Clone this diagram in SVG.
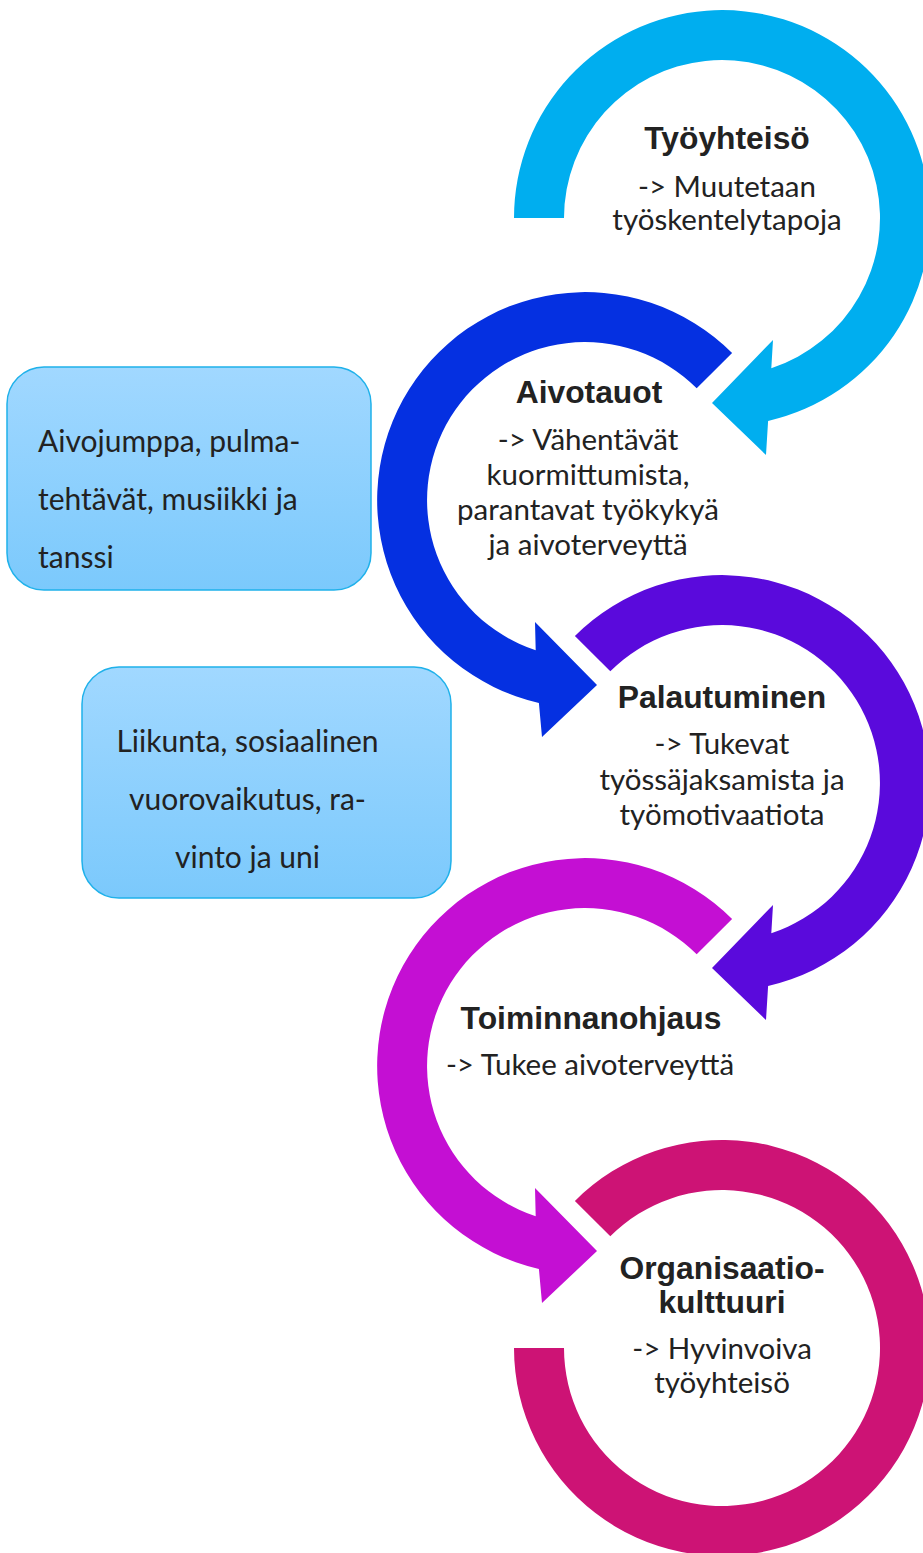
<svg xmlns="http://www.w3.org/2000/svg" width="923" height="1553" viewBox="0 0 923 1553">
  <defs>
    <linearGradient id="boxFill" x1="0" y1="0" x2="0" y2="1">
      <stop offset="0" stop-color="#A1D8FF"/>
      <stop offset="1" stop-color="#7BC9FC"/>
    </linearGradient>
    <style>
      .title { font-family: "Liberation Sans", Arial, sans-serif; font-weight: bold; font-size: 31.8px; fill: #222222; text-anchor: middle; }
      .body { font-family: Lato, "Open Sans", sans-serif; font-size: 29.5px; fill: #222222; text-anchor: middle; }
      .side { font-family: Lato, "Open Sans", sans-serif; font-size: 30px; fill: #222222; }
      .sidec { font-family: Lato, "Open Sans", sans-serif; font-size: 30px; fill: #222222; text-anchor: middle; }
      .box { fill: url(#boxFill); stroke: #1FB1EA; stroke-width: 1.5; }
    </style>
  </defs>

  <rect width="923" height="1553" fill="#FFFFFF"/>

  <!-- circular arrows linking the themes -->
  <g id="connectors">
    <path id="arrow-tyoyhteiso" fill="#00AEEF"
          d="M 514 218 A 208 208 0 1 1 768.1 420.9 L 766 455 L 712 403 L 773 340 L 771.3 368.2 A 158 158 0 1 0 564 218 Z"/>
    <path id="arrow-aivotauot" fill="#0530E1"
          d="M 732.1 352.9 A 208 208 0 1 0 538.9 702.9 L 542 737 L 597 685 L 535 622 L 535.7 650.2 A 158 158 0 1 1 696.7 388.3 Z"/>
    <path id="arrow-palautuminen" fill="#5A0ADC"
          d="M 574.9 635.9 A 208 208 0 1 1 768.1 985.9 L 766 1020 L 712 968 L 773 905 L 771.3 933.2 A 158 158 0 1 0 610.3 671.3 Z"/>
    <path id="arrow-toiminnanohjaus" fill="#C40FD3"
          d="M 732.1 918.9 A 208 208 0 1 0 538.9 1268.9 L 542 1303 L 597 1251 L 535 1188 L 535.7 1216.2 A 158 158 0 1 1 696.7 954.3 Z"/>
    <path id="arrow-organisaatiokulttuuri" fill="#CD1375"
          d="M 574.9 1200.9 A 208 208 0 1 1 514 1348 L 564 1348 A 158 158 0 1 0 610.3 1236.3 Z"/>
  </g>

  <g id="node-tyoyhteiso">
    <text class="title" x="727" y="149">Työyhteisö</text>
    <text class="body" x="727" y="197">-&gt; Muutetaan</text>
    <text class="body" x="727" y="230">työskentelytapoja</text>
  </g>

  <g id="node-aivotauot">
    <text class="title" x="589" y="403">Aivotauot</text>
    <text class="body" x="588" y="450">-&gt; Vähentävät</text>
    <text class="body" x="588" y="485">kuormittumista,</text>
    <text class="body" x="588" y="520">parantavat työkykyä</text>
    <text class="body" x="588" y="555">ja aivoterveyttä</text>
  </g>

  <g id="node-palautuminen">
    <text class="title" x="722" y="708">Palautuminen</text>
    <text class="body" x="722" y="754">-&gt; Tukevat</text>
    <text class="body" x="722" y="790">työssäjaksamista ja</text>
    <text class="body" x="722" y="825">työmotivaatiota</text>
  </g>

  <g id="node-toiminnanohjaus">
    <text class="title" x="591" y="1029">Toiminnanohjaus</text>
    <text class="body" x="590" y="1075">-&gt; Tukee aivoterveyttä</text>
  </g>

  <g id="node-organisaatiokulttuuri">
    <text class="title" x="722" y="1279">Organisaatio-</text>
    <text class="title" x="722" y="1313">kulttuuri</text>
    <text class="body" x="722" y="1359">-&gt; Hyvinvoiva</text>
    <text class="body" x="722" y="1393">työyhteisö</text>
  </g>

  <g id="node-aivojumppa">
    <rect class="box" x="7" y="367" width="364" height="223" rx="37" ry="37"/>
    <text class="side" x="38" y="452">Aivojumppa, pulma-</text>
    <text class="side" x="38" y="510">tehtävät, musiikki ja</text>
    <text class="side" x="38" y="568">tanssi</text>
  </g>

  <g id="node-liikunta">
    <rect class="box" x="82" y="667" width="369" height="231" rx="37" ry="37"/>
    <text class="sidec" x="247.5" y="752">Liikunta, sosiaalinen</text>
    <text class="sidec" x="247.5" y="810">vuorovaikutus, ra-</text>
    <text class="sidec" x="247.5" y="868">vinto ja uni</text>
  </g>
</svg>
